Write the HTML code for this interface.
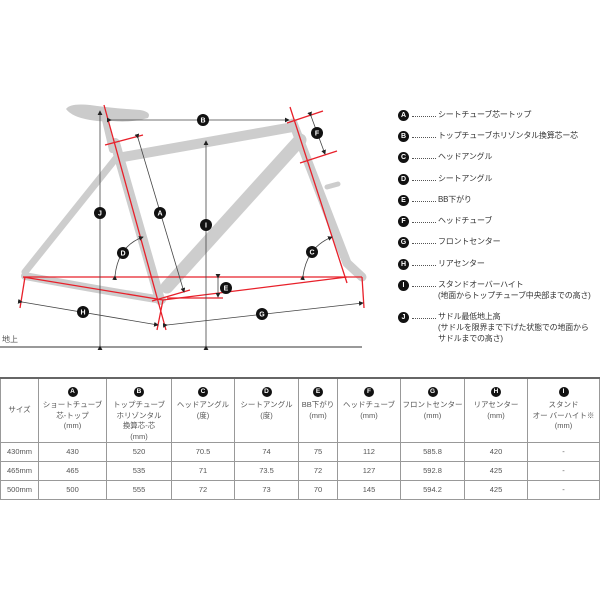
<!DOCTYPE html>
<html><head><meta charset="utf-8"><style>
body{margin:0;background:#fff;width:600px;height:600px;overflow:hidden;font-family:"Liberation Sans","Noto Sans CJK JP",sans-serif;color:#444}
svg{position:absolute;left:0;top:0}
.lg{position:absolute;left:398px;font-size:8px;color:#333;line-height:10.5px;white-space:nowrap;letter-spacing:-0.2px}
.lg .c{display:inline-block;width:11px;height:11px;border-radius:50%;background:#111;color:#fff;font-size:7px;text-align:center;line-height:11px;font-weight:bold;vertical-align:top;margin-right:3px;letter-spacing:0}
.lg .d{display:inline-block;width:24px;height:6px;border-bottom:1px dotted #555;vertical-align:top;margin-right:2px}
table{position:absolute;left:0;top:377px;width:600px;border-collapse:collapse;font-size:7.5px;color:#555;table-layout:fixed}
td{border:1px solid #999;text-align:center;padding:0;line-height:10.5px;white-space:nowrap;overflow:hidden}
tr.h td{height:63px;border-top:2px solid #666;vertical-align:top;padding-top:7px;box-sizing:border-box}
tr.h td.s{vertical-align:middle;padding-top:0}
tr.r td{height:18px}
.cc{display:inline-block;width:10px;height:10px;border-radius:50%;background:#111;color:#fff;font-size:6.5px;line-height:10px;font-weight:bold;margin-bottom:3px}
</style></head><body>
<svg width="600" height="370" viewBox="0 0 600 370">
<g stroke="#cdcdcd" fill="none" stroke-linecap="round">
<path d="M123,157 L293,127" stroke-width="10"/>
<path d="M300,140 L167,287" stroke-width="13"/>
<path d="M115,143 L160,300" stroke-width="10"/>
<path d="M117,157 L25,272" stroke-width="7"/>
<path d="M25,276 Q100,290 162,300" stroke-width="8"/>
<path d="M293,123 L347,263 L362,277" stroke-width="9"/>
<path d="M327,187 L338,184" stroke-width="5"/>
<path d="M105,120 L112,150" stroke-width="6"/>
</g>
<path d="M66,109 Q70,103 90,105 Q110,108 140,110 Q152,112 148,118 Q130,123 112,121 Q100,122 90,120 Q72,117 66,109Z" fill="#cbcbcb"/>
<g stroke="#e8202a" stroke-width="1.3" fill="none">
<line x1="104" y1="105" x2="166" y2="330"/>
<line x1="290" y1="107" x2="347" y2="283"/>
<line x1="23" y1="277" x2="362" y2="277"/>
<line x1="23" y1="277" x2="163" y2="300"/>
<line x1="163" y1="300" x2="347" y2="277"/>
<line x1="25" y1="277" x2="20" y2="308"/>
<line x1="362" y1="277" x2="364" y2="308"/>
<line x1="163" y1="300" x2="157" y2="330"/>
<line x1="105" y1="145" x2="143" y2="135"/>
<line x1="152" y1="301" x2="190" y2="290"/>
<line x1="287" y1="123" x2="323" y2="111"/>
<line x1="300" y1="163" x2="337" y2="151"/>
<line x1="167" y1="298" x2="223" y2="298"/>
</g>
<defs><marker id="a" markerWidth="6" markerHeight="6" refX="5" refY="3" orient="auto"><path d="M0,0 L6,3 L0,6Z" fill="#222"/></marker></defs>
<g stroke="#444" stroke-width="0.8" fill="none">
<line x1="0" y1="347" x2="362" y2="347" stroke="#333" stroke-width="1"/>
<line x1="100" y1="346" x2="100" y2="111" marker-end="url(#a)" marker-start="url(#a)"/>
<line x1="206" y1="346" x2="206" y2="141" marker-end="url(#a)" marker-start="url(#a)"/>
<line x1="111" y1="120" x2="289" y2="120" marker-end="url(#a)" marker-start="url(#a)"/>
<line x1="138" y1="138" x2="184" y2="292" marker-end="url(#a)" marker-start="url(#a)"/>
<line x1="311" y1="116" x2="325" y2="154" marker-end="url(#a)" marker-start="url(#a)"/>
<line x1="218" y1="278" x2="218" y2="297" marker-end="url(#a)" marker-start="url(#a)"/>
<path d="M115,276 Q118,246 143,237" marker-end="url(#a)" marker-start="url(#a)"/>
<path d="M303,276 Q307,247 332,237" marker-end="url(#a)" marker-start="url(#a)"/>
<line x1="22" y1="302" x2="158" y2="325" marker-end="url(#a)" marker-start="url(#a)"/>
<line x1="167" y1="325" x2="363" y2="303" marker-end="url(#a)" marker-start="url(#a)"/>
</g>
<g font-size="7" font-weight="bold" fill="#fff" text-anchor="middle" font-family="Liberation Sans,sans-serif">
<circle cx="203" cy="120" r="6" fill="#111"/><text x="203" y="122.5">B</text>
<circle cx="100" cy="213" r="6" fill="#111"/><text x="100" y="215.5">J</text>
<circle cx="206" cy="225" r="6" fill="#111"/><text x="206" y="227.5">I</text>
<circle cx="160" cy="213" r="6" fill="#111"/><text x="160" y="215.5">A</text>
<circle cx="317" cy="133" r="6" fill="#111"/><text x="317" y="135.5">F</text>
<circle cx="123" cy="253" r="6" fill="#111"/><text x="123" y="255.5">D</text>
<circle cx="312" cy="252" r="6" fill="#111"/><text x="312" y="254.5">C</text>
<circle cx="226" cy="288" r="6" fill="#111"/><text x="226" y="290.5">E</text>
<circle cx="83" cy="312" r="6" fill="#111"/><text x="83" y="314.5">H</text>
<circle cx="262" cy="314" r="6" fill="#111"/><text x="262" y="316.5">G</text>
</g>
<text x="2" y="342" font-size="8" fill="#555" font-family="Liberation Sans,Noto Sans CJK JP,sans-serif">地上</text>
</svg>
<div class="lg" style="top:110px"><span class="c">A</span><span class="d"></span>シートチューブ芯ートップ</div>
<div class="lg" style="top:131px"><span class="c">B</span><span class="d"></span>トップチューブホリゾンタル換算芯ー芯</div>
<div class="lg" style="top:152px"><span class="c">C</span><span class="d"></span>ヘッドアングル</div>
<div class="lg" style="top:174px"><span class="c">D</span><span class="d"></span>シートアングル</div>
<div class="lg" style="top:195px"><span class="c">E</span><span class="d"></span>BB下がり</div>
<div class="lg" style="top:216px"><span class="c">F</span><span class="d"></span>ヘッドチューブ</div>
<div class="lg" style="top:237px"><span class="c">G</span><span class="d"></span>フロントセンター</div>
<div class="lg" style="top:259px"><span class="c">H</span><span class="d"></span>リアセンター</div>
<div class="lg" style="top:280px"><span class="c">I</span><span class="d"></span>スタンドオーバーハイト<br><span style="padding-left:40px">(地面からトップチューブ中央部までの高さ)</span></div>
<div class="lg" style="top:312px"><span class="c">J</span><span class="d"></span>サドル最低地上高<br><span style="padding-left:40px">(サドルを限界まで下げた状態での地面から</span><br><span style="padding-left:40px">サドルまでの高さ)</span></div>
<table>
<colgroup><col style="width:38px"><col style="width:68px"><col style="width:65px"><col style="width:63px"><col style="width:64px"><col style="width:39px"><col style="width:63px"><col style="width:64px"><col style="width:63px"><col></colgroup>
<tr class="h"><td class="s">サイズ</td>
<td><span class="cc">A</span><br>ショートチューブ<br>芯-トップ<br>(mm)</td>
<td><span class="cc">B</span><br>トップチューブ<br>ホリゾンタル<br>換算芯-芯<br>(mm)</td>
<td><span class="cc">C</span><br>ヘッドアングル<br>(度)</td>
<td><span class="cc">D</span><br>シートアングル<br>(度)</td>
<td><span class="cc">E</span><br>BB下がり<br>(mm)</td>
<td><span class="cc">F</span><br>ヘッドチューブ<br>(mm)</td>
<td><span class="cc">G</span><br>フロントセンター<br>(mm)</td>
<td><span class="cc">H</span><br>リアセンター<br>(mm)</td>
<td><span class="cc">I</span><br>スタンド<br>オー バーハイト※<br>(mm)</td></tr>
<tr class="r"><td>430mm</td><td>430</td><td>520</td><td>70.5</td><td>74</td><td>75</td><td>112</td><td>585.8</td><td>420</td><td>-</td></tr>
<tr class="r"><td>465mm</td><td>465</td><td>535</td><td>71</td><td>73.5</td><td>72</td><td>127</td><td>592.8</td><td>425</td><td>-</td></tr>
<tr class="r"><td>500mm</td><td>500</td><td>555</td><td>72</td><td>73</td><td>70</td><td>145</td><td>594.2</td><td>425</td><td>-</td></tr>
</table>
</body></html>
